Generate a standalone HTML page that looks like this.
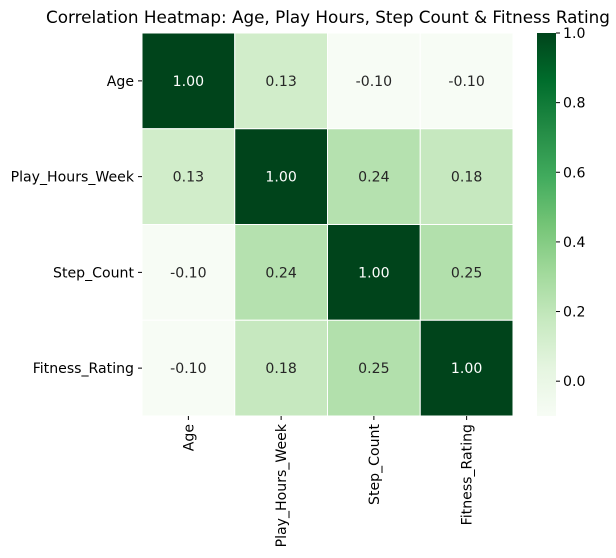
<!DOCTYPE html>
<html><head><meta charset="utf-8"><style>
body{margin:0;background:#fff;}
svg{display:block;font-family:"DejaVu Sans","Liberation Sans",sans-serif;}
</style></head><body>
<svg id="chart" width="616" height="558">
<text x="328" y="23" text-anchor="middle" font-size="16.8" fill="#000">Correlation Heatmap: Age, Play Hours, Step Count &amp; Fitness Rating</text>
<defs><linearGradient id="cbg" x1="0" y1="1" x2="0" y2="0">
<stop offset="0" stop-color="#f7fcf5"/><stop offset="0.125" stop-color="#e5f5e0"/><stop offset="0.25" stop-color="#c7e9c0"/><stop offset="0.375" stop-color="#a1d99b"/><stop offset="0.5" stop-color="#74c476"/><stop offset="0.625" stop-color="#41ab5d"/><stop offset="0.75" stop-color="#238b45"/><stop offset="0.875" stop-color="#006d2c"/><stop offset="1" stop-color="#00441b"/>
</linearGradient></defs>
<g id="cells"></g>
<g id="axes"></g>
</svg>
<script>
const labels = ["Age","Play_Hours_Week","Step_Count","Fitness_Rating"];
const row0 = [1.00, 0.13, -0.10, -0.10];
const row1 = [0.13, 1.00, 0.24, 0.18];
const row2 = [-0.10, 0.24, 1.00, 0.25];
const row3 = [-0.10, 0.18, 0.25, 1.00];
const matrix = [row0,row1,row2,row3];
const cbTicks = [0.0,0.2,0.4,0.6,0.8,1.0];
const vmin = -0.10, vmax = 1.0;

const NS="http://www.w3.org/2000/svg";
const L=142,T=33,R=513,B=416;
const FS=14.1;
const cw=(R-L)/labels.length, ch=(B-T)/labels.length;
const stops=["#f7fcf5","#e5f5e0","#c7e9c0","#a1d99b","#74c476","#41ab5d","#238b45","#006d2c","#00441b"].map(h=>[1,3,5].map(i=>parseInt(h.substr(i,2),16)));
function color(v){let t=Math.max(0,Math.min(1,(v-vmin)/(vmax-vmin)))*(stops.length-1);let i=Math.min(Math.floor(t),stops.length-2),f=t-i;
const c=stops[i].map((a,k)=>Math.round(a+(stops[i+1][k]-a)*f));return `rgb(${c.join(",")})`;}
function lum(v){return (v-vmin)/(vmax-vmin);}
function el(tag,attrs,parent,text){const e=document.createElementNS(NS,tag);for(const k in attrs)e.setAttribute(k,attrs[k]);if(text!==undefined)e.textContent=text;parent.appendChild(e);return e;}
const cells=document.getElementById("cells"), axes=document.getElementById("axes");
matrix.forEach((row,r)=>row.forEach((v,c)=>{
 const rect=el("rect",{x:L+c*cw,y:T+r*ch,width:cw,height:ch,fill:color(v),stroke:"#fff","stroke-width":1},cells);
 
 
 const t=el("text",{x:L+c*cw+cw/2,y:T+r*ch+ch/2+5,"text-anchor":"middle","font-size":FS,fill:lum(v)>0.6?"#fff":"#262626"},cells,v.toFixed(2));
 
 
}));
labels.forEach((lab,i)=>{
 const y=T+i*ch+ch/2;
 el("line",{x1:L-4,x2:L,y1:y,y2:y,stroke:"#000"},axes);
 const yl=el("text",{x:L-8,y:y+5,"text-anchor":"end","font-size":FS},axes,lab);
 
 
 const x=L+i*cw+cw/2;
 el("line",{x1:x,x2:x,y1:B,y2:B+4,stroke:"#000"},axes);
 const xl=el("text",{x:x+5,y:B+8,"text-anchor":"end","font-size":FS,transform:`rotate(-90 ${x+5} ${B+8})`},axes,lab);
 
 
});
const cbL=537,cbW=19;
const cb=el("rect",{x:cbL,y:T,width:cbW,height:B-T,fill:"url(#cbg)"},axes);


cbTicks.forEach(v=>{
 const y=B-(v-vmin)/(vmax-vmin)*(B-T);
 el("line",{x1:cbL+cbW,x2:cbL+cbW+4,y1:y,y2:y,stroke:"#000"},axes);
 const t=el("text",{x:cbL+cbW+7,y:y+5,"font-size":FS},axes,v.toFixed(1));
 
 
});
</script>
</body></html>
